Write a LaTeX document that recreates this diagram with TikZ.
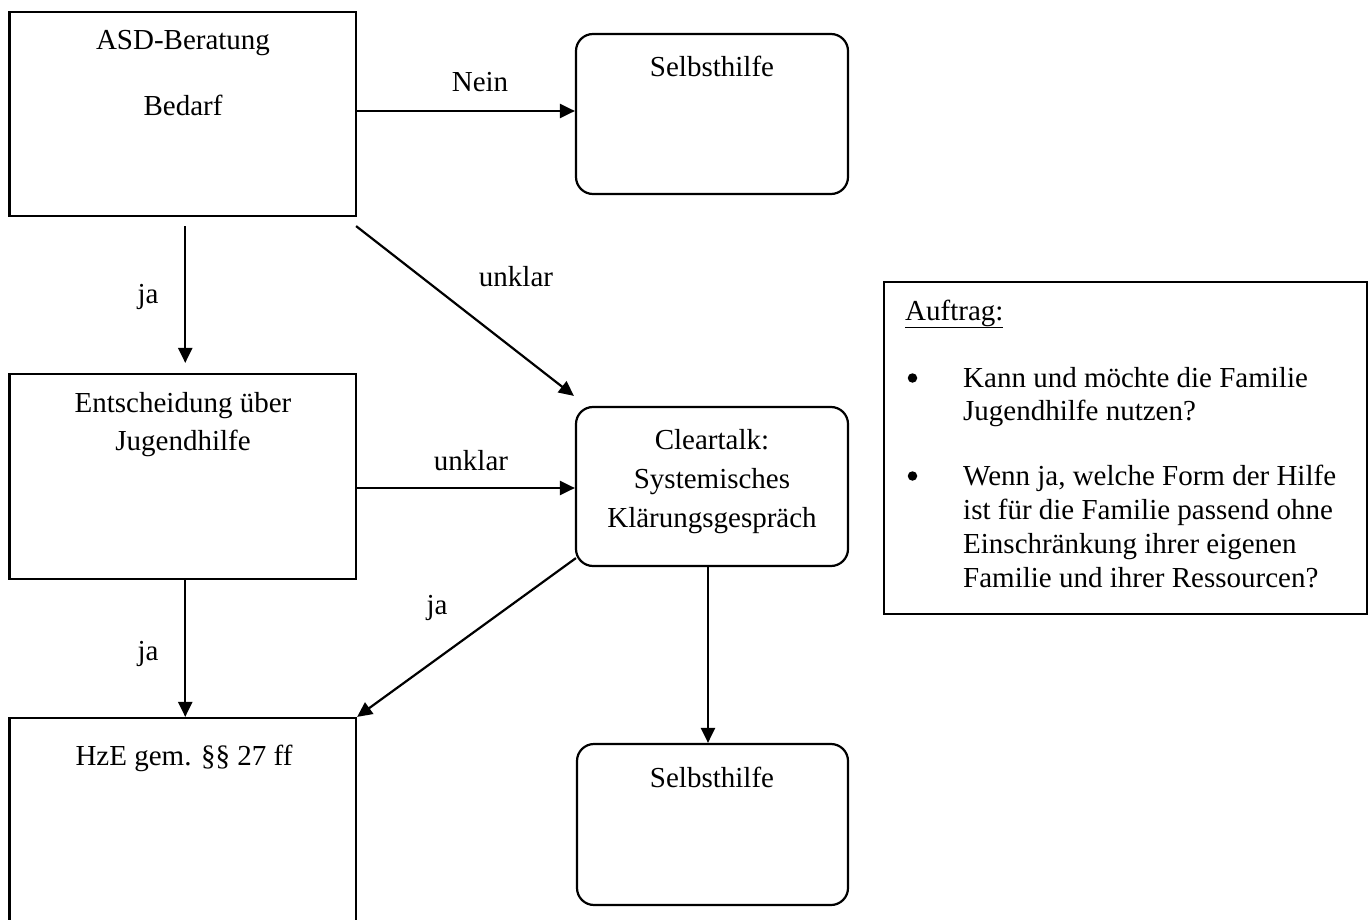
\documentclass[tikz,border=0pt]{standalone}
\usepackage{fontspec}
\setmainfont{Liberation Serif}
\usetikzlibrary{arrows.meta,calc}
\newcommand\myfs{\fontsize{29}{34}\selectfont}
\begin{document}
\begin{tikzpicture}[x=1pt,y=-1pt,
  sq/.style={draw, line width=2.2pt, inner sep=0pt},
  rnd/.style={sq, rounded corners=17pt},
  txt/.style={anchor=base, inner sep=0pt, font=\myfs},
  ltxt/.style={anchor=base west, inner sep=0pt, font=\myfs},
  bul/.style={circle, fill, inner sep=0pt, minimum size=9.5pt},
  arr/.style={line width=2.2pt, -{Triangle[length=15pt,width=14pt]}}]
\useasboundingbox (0,0) rectangle (1371,920);
\clip (0,0) rectangle (1371,920);
% boxes
\node[sq, minimum width=346.5pt, minimum height=204pt] (asd) at (182.75,114) {};
\node[rnd, minimum width=272pt, minimum height=160pt] (sh1) at (712,114) {};
\node[sq, minimum width=346.5pt, minimum height=205pt] (ent) at (182.75,476.5) {};
\node[rnd, minimum width=272pt, minimum height=159pt] (clr) at (712,486.5) {};
\node[sq, minimum width=346.5pt, minimum height=242pt] (hze) at (182.75,839) {};
\node[rnd, minimum width=271pt, minimum height=161pt] (sh2) at (712.5,824.5) {};
\node[draw, line width=1.8pt, inner sep=0pt, minimum width=483pt, minimum height=332pt] (auf) at (1125.5,448) {};
% box texts
\node[txt] (asdA) at (183,50) {ASD-Beratung};
\node[txt] (asdB) at (183,116) {Bedarf};
\node[txt] (sh1t) at (712,77) {Selbsthilfe};
\node[txt] (entA) at (183,412) {Entscheidung über};
\node[txt] (entB) at (183,450) {Jugendhilfe};
\node[txt] (clrA) at (712,449) {Cleartalk:};
\node[txt] (clrB) at (712,488) {Systemisches};
\node[txt] (clrC) at (712,527) {Klärungsgespräch};
\node[txt] (hzet) at (184,765) {HzE gem. §§ 27 ff};
\node[txt] (sh2t) at (712,787) {Selbsthilfe};
% Auftrag
\node[ltxt] (au0) at (905,320) {\underline{Auftrag:}};
\node[bul] (bu1) at (912.5,378) {};
\node[bul] (bu2) at (912.5,476) {};
\node[ltxt] (au1) at (963,387) {Kann und möchte die Familie};
\node[ltxt] (au2) at (963,420) {Jugendhilfe nutzen?};
\node[ltxt] (au3) at (963,485) {Wenn ja, welche Form der Hilfe};
\node[ltxt] (au4) at (963,519) {ist für die Familie passend ohne};
\node[ltxt] (au5) at (963,553) {Einschränkung ihrer eigenen};
\node[ltxt] (au6) at (963,587) {Familie und ihrer Ressourcen?};
% connectors
\draw[arr] ($(asd.east)+(0,-3)$) -- ($(sh1.west)+(0,-3)$);
\draw[arr] ($(asd.south)+(2.5,9)$) -- ($(ent.north)+(2.5,-10)$);
\draw[arr] ($(asd.south east)+(-1,9)$) -- ($(clr.north west)+(-1,-10)$);
\draw[arr] ($(ent.east)+(0,11.5)$) -- ($(clr.west)+(0,1.5)$);
\draw[arr] ($(clr.south west)+(1,-9)$) -- (hze.north east);
\draw[arr] ($(ent.south)+(2.5,0)$) -- ($(hze.north)+(2.5,0)$);
\draw[arr] ($(clr.south)+(-4,0)$) -- ($(sh2.north)+(-4.5,0)$);
% labels
\node[txt] (lnein) at (480,92) {Nein};
\node[txt] (lja1) at (148,303) {ja};
\node[txt] (lunk1) at (516,287) {unklar};
\node[txt] (lunk2) at (471,470) {unklar};
\node[txt] (lja2) at (437,614) {ja};
\node[txt] (lja3) at (148,660) {ja};
\end{tikzpicture}
\end{document}
